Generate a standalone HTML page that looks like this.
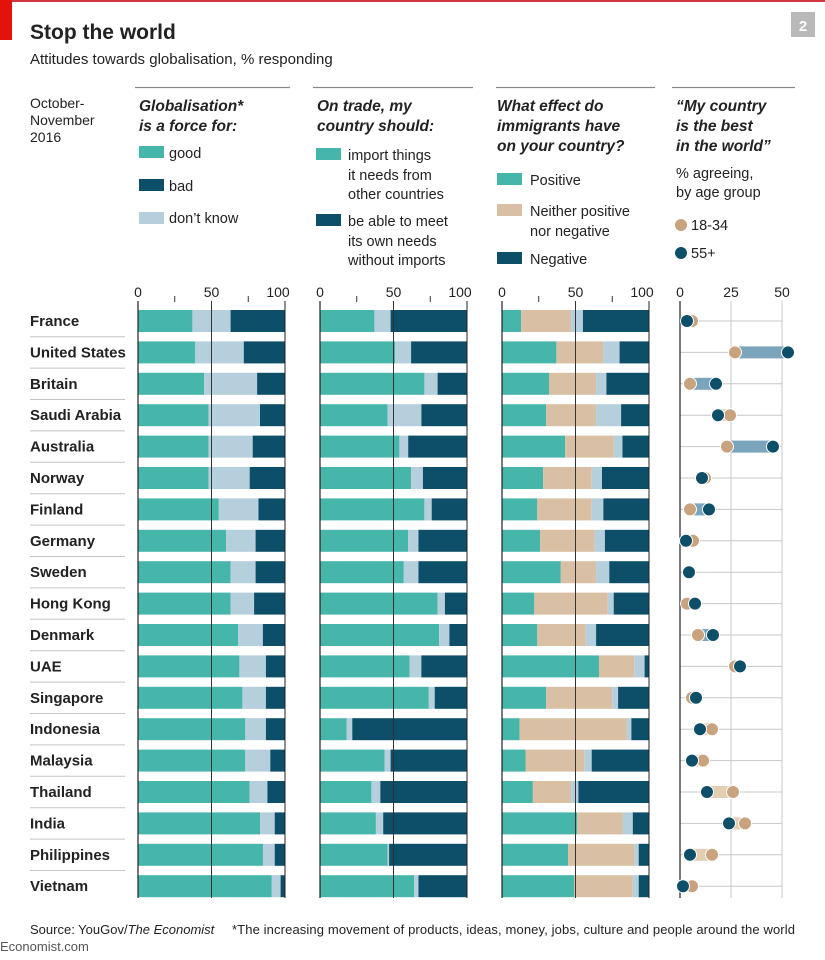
<!DOCTYPE html>
<html><head><meta charset="utf-8"><style>
html,body{margin:0;padding:0;background:#fff;}
body{width:825px;height:960px;overflow:hidden;position:relative;font-family:"Liberation Sans",sans-serif;}
svg{position:absolute;left:0;top:0;}
text{font-family:"Liberation Sans",sans-serif;fill:#222;}
</style></head><body>
<svg id="s" width="825" height="960" viewBox="0 0 825 960" xmlns="http://www.w3.org/2000/svg">
<rect x="0" y="0" width="825" height="2" fill="#d0383f"/>
<rect x="0" y="0" width="12" height="40" fill="#e3120b"/>
<text x="30" y="39" font-size="21" font-weight="bold" fill="#111">Stop the world</text>
<text x="30" y="64" font-size="15">Attitudes towards globalisation, % responding</text>
<rect x="791" y="12" width="24" height="25" fill="#b9b9b9"/>
<text x="803" y="31" font-size="15" font-weight="bold" fill="#fff" style="fill:#fff" text-anchor="middle">2</text>
<text x="30" y="108" font-size="14">October-</text>
<text x="30" y="125" font-size="14">November</text>
<text x="30" y="142" font-size="14">2016</text>
<g stroke="#888" stroke-width="1.2">
<line x1="135" y1="87.5" x2="290" y2="87.5"/><line x1="313" y1="87.5" x2="473" y2="87.5"/>
<line x1="496" y1="87.5" x2="655" y2="87.5"/><line x1="672" y1="87.5" x2="795" y2="87.5"/>
</g>
<g font-size="15.5" font-weight="bold" font-style="italic">
<text x="139" y="111">Globalisation*</text><text x="139" y="131">is a force for:</text>
<text x="317" y="111">On trade, my</text><text x="317" y="131">country should:</text>
<text x="497" y="111">What effect do</text><text x="497" y="131">immigrants have</text><text x="497" y="151">on your country?</text>
<text x="676" y="111">“My country</text><text x="676" y="131">is the best</text><text x="676" y="151">in the world”</text>
</g>
<g font-size="14.5">
<rect x="139" y="146" width="25" height="12" fill="#45b6a9"/><text x="169" y="158">good</text>
<rect x="139" y="179" width="25" height="12" fill="#0d4e68"/><text x="169" y="191">bad</text>
<rect x="139" y="212" width="25" height="12" fill="#b6cfdc"/><text x="169" y="223">don’t know</text>
<rect x="316" y="148" width="25" height="12" fill="#45b6a9"/><text x="348" y="160">import things</text><text x="348" y="180">it needs from</text><text x="348" y="199">other countries</text>
<rect x="316" y="214" width="25" height="12" fill="#0d4e68"/><text x="348" y="226">be able to meet</text><text x="348" y="246">its own needs</text><text x="348" y="265">without imports</text>
<rect x="497" y="173" width="25" height="12" fill="#45b6a9"/><text x="530" y="185">Positive</text>
<rect x="497" y="204" width="25" height="12" fill="#d9bfa3"/><text x="530" y="216">Neither positive</text><text x="530" y="236">nor negative</text>
<rect x="497" y="252" width="25" height="12" fill="#0d4e68"/><text x="530" y="264">Negative</text>
<text x="676" y="178">% agreeing,</text><text x="676" y="197">by age group</text>
<circle cx="681" cy="225" r="6" fill="#c9a27e"/><text x="691" y="230">18-34</text>
<circle cx="681" cy="253" r="6" fill="#0d4e68"/><text x="691" y="258">55+</text>
</g>
<g id="chart"></g>
<text x="30" y="934" font-size="13">Source: YouGov/<tspan font-style="italic">The Economist</tspan></text>
<text x="232" y="934" font-size="13" textLength="563">*The increasing movement of products, ideas, money, jobs, culture and people around the world</text>
<text x="0" y="951" font-size="13" fill="#555" style="fill:#555">Economist.com</text>
</svg>
<script>
var names=["France","United States","Britain","Saudi Arabia","Australia","Norway","Finland","Germany","Sweden","Hong Kong","Denmark","UAE","Singapore","Indonesia","Malaysia","Thailand","India","Philippines","Vietnam"];
var p1=[[37,63],[39,72],[45,81],[48,83],[48,78],[48,76],[55,82],[60,80],[63,80],[63,79],[68,85],[69,87],[71,87],[73,87],[73,90],[76,88],[83,93],[85,93],[91,97]];
var p2=[[37,48],[51,62],[71,80],[46,69],[54,60],[62,70],[71,76],[60,67],[57,67],[80,85],[81,88],[61,69],[74,78],[18,22],[44,48],[35,41],[38,43],[46,47],[64,67]];
var p3=[[13,47,55],[37,69,80],[32,64,71],[30,64,81],[43,76,82],[28,61,68],[24,61,69],[26,63,70],[40,64,73],[22,72,76],[24,57,64],[66,90,97],[30,75,79],[12,85,88],[16,56,61],[21,47,52],[51,82,89],[45,90,93],[49,89,93]];
var p4=[[692,687],[735,788],[690,716],[730,718],[727,773],[705,702],[690,709],[693,686],[689,689],[687,695],[698,713],[735,740],[692,696],[712,700],[703,692],[733,707],[745,729],[712,690],[692,683]];
var T="#45b6a9",D="#0d4e68",L="#b6cfdc",N="#d9bfa3";
var h='';
function r(x,y,w,c){h+='<rect x="'+x.toFixed(1)+'" y="'+y+'" width="'+Math.max(0,w).toFixed(1)+'" height="22" fill="'+c+'"/>';}
var s=1.47;
for(var i=0;i<19;i++){
 var cy=321+i*31.4,y=cy-11;
 h+='<text x="30" y="'+(cy+5)+'" font-size="15" font-weight="bold" fill="#222">'+names[i]+'</text>';
 if(i<18)h+='<line x1="30" y1="'+(cy+15.7)+'" x2="125" y2="'+(cy+15.7)+'" stroke="#c4c4c4" stroke-width="1"/>';
 var a=p1[i];r(138,y,a[0]*s,T);r(138+a[0]*s,y,(a[1]-a[0])*s,L);r(138+a[1]*s,y,(100-a[1])*s,D);
 a=p2[i];r(320,y,a[0]*s,T);r(320+a[0]*s,y,(a[1]-a[0])*s,L);r(320+a[1]*s,y,(100-a[1])*s,D);
 a=p3[i];r(502,y,a[0]*s,T);r(502+a[0]*s,y,(a[1]-a[0])*s,N);r(502+a[1]*s,y,(a[2]-a[1])*s,L);r(502+a[2]*s,y,(100-a[2])*s,D);
 h+='<line x1="680" y1="'+cy+'" x2="782" y2="'+cy+'" stroke="#c8c8c8" stroke-width="1"/>';
}
['138','320','502'].forEach(function(x0){x0=+x0;
 h+='<line x1="'+x0+'" y1="301" x2="'+x0+'" y2="898" stroke="#222" stroke-width="1.2"/>';
 h+='<line x1="'+(x0+73.5)+'" y1="301" x2="'+(x0+73.5)+'" y2="898" stroke="#333" stroke-width="1"/>';
 h+='<line x1="'+(x0+147)+'" y1="301" x2="'+(x0+147)+'" y2="898" stroke="#222" stroke-width="1"/>';
 h+='<line x1="'+(x0+36.75)+'" y1="296" x2="'+(x0+36.75)+'" y2="302" stroke="#333"/>';
 h+='<line x1="'+(x0+110.25)+'" y1="296" x2="'+(x0+110.25)+'" y2="302" stroke="#333"/>';
 h+='<text x="'+x0+'" y="297" font-size="14" text-anchor="middle">0</text>';
 h+='<text x="'+(x0+73.5)+'" y="297" font-size="14" text-anchor="middle">50</text>';
 h+='<text x="'+(x0+140)+'" y="297" font-size="14" text-anchor="middle">100</text>';
});
h+='<line x1="731" y1="301" x2="731" y2="898" stroke="#c8c8c8"/><line x1="782" y1="301" x2="782" y2="898" stroke="#c8c8c8"/>';
h+='<line x1="680" y1="301" x2="680" y2="898" stroke="#222" stroke-width="1.2"/>';
h+='<text x="680" y="297" font-size="14" text-anchor="middle">0</text><text x="731" y="297" font-size="14" text-anchor="middle">25</text><text x="782" y="297" font-size="14" text-anchor="middle">50</text>';
for(var i=0;i<19;i++){
 var cy=321+i*31.4,t=p4[i][0],d=p4[i][1];
 var lo=Math.min(t,d),hi=Math.max(t,d);
 if(hi-lo>8)h+='<rect x="'+lo+'" y="'+(cy-6)+'" width="'+(hi-lo)+'" height="12" fill="'+(d>t?'#7aa5bd':'#e3cdb3')+'"/>';
 h+='<circle cx="'+t+'" cy="'+cy+'" r="6.5" fill="#c9a27e" stroke="#fff" stroke-width="1"/>';
 h+='<circle cx="'+d+'" cy="'+cy+'" r="6.5" fill="#0d4e68" stroke="#fff" stroke-width="1"/>';
}
document.getElementById('chart').innerHTML=h;
</script>
</body></html>
